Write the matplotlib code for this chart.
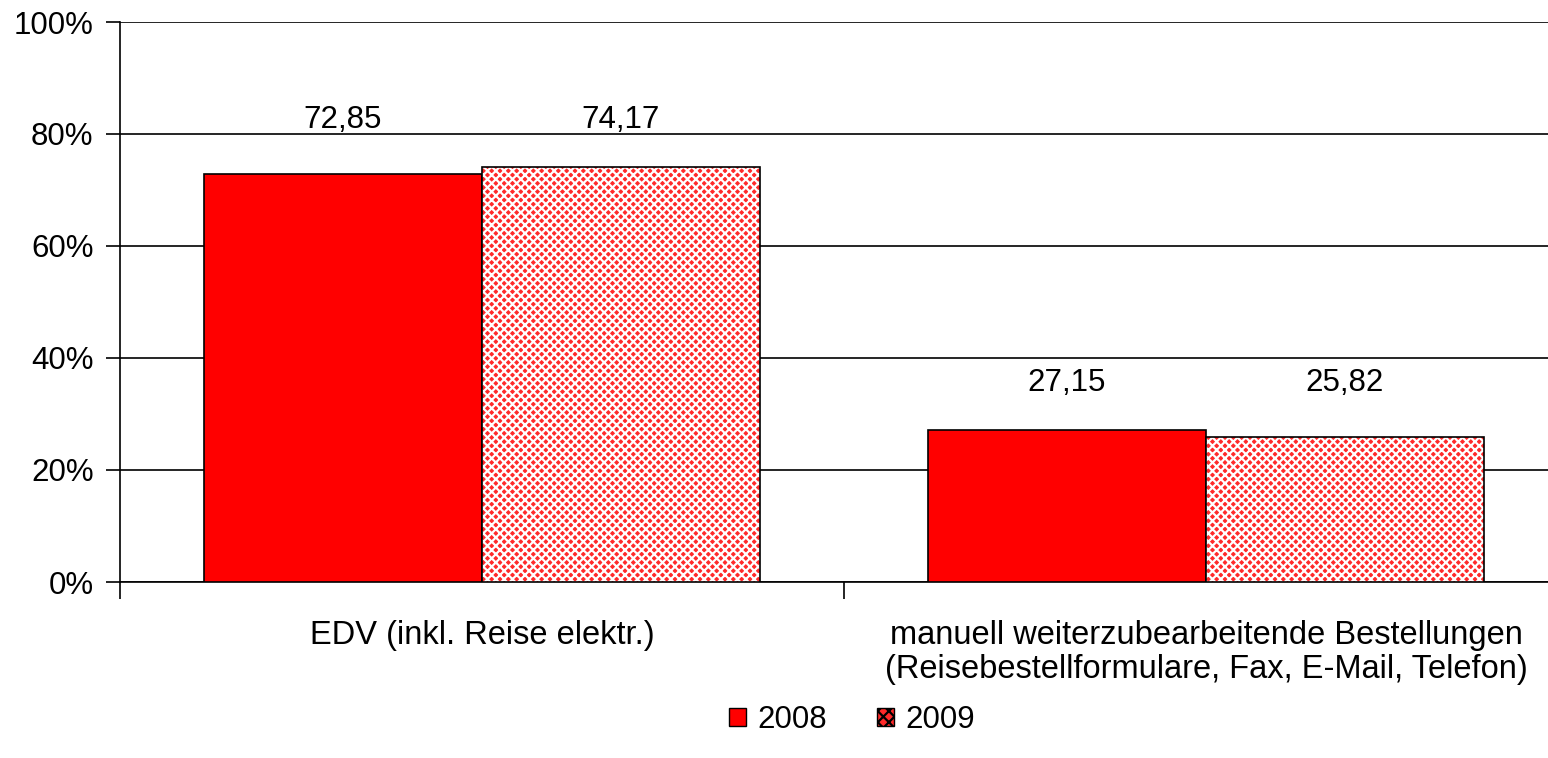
import matplotlib.pyplot as plt
import numpy as np

plt.rcParams['font.family'] = ['Liberation Sans', 'DejaVu Sans']
plt.rcParams['hatch.linewidth'] = 1.6

categories = ["EDV (inkl. Reise elektr.)",
              "manuell weiterzubearbeitende Bestellungen\n(Reisebestellformulare, Fax, E-Mail, Telefon)"]
v2008 = [72.85, 27.15]
v2009 = [74.17, 25.82]
labels2008 = ["72,85", "27,15"]
labels2009 = ["74,17", "25,82"]
yticks = [0, 20, 40, 60, 80, 100]

fig = plt.figure(figsize=(15.48, 7.58), dpi=100)
ax = fig.add_axes([120 / 1548, 1 - 582 / 758, 1448 / 1548, 560 / 758])

x = np.arange(len(categories))
w = 0.384
ax.bar(x - w / 2, v2008, w, color="#ff0000", edgecolor="black", linewidth=1.2, zorder=3, label="2008")
# hatched bars: red with white pattern, then black outline on top
ax.bar(x + w / 2, v2009, w, color="#ff2a2a", edgecolor="white", hatch="xxxx", linewidth=0, zorder=3)
ax.bar(x + w / 2, v2009, w, fill=False, edgecolor="black", linewidth=1.2, zorder=4)

for i in range(len(categories)):
    ytxt = max(v2008[i], v2009[i]) + 8.3
    ax.text(x[i] - w / 2, ytxt, labels2008[i], ha="center", va="center", fontsize=22.5)
    ax.text(x[i] + w / 2, ytxt, labels2009[i], ha="center", va="center", fontsize=22.5)

ax.set_xlim(-0.5, len(categories) - 0.5)
ax.set_ylim(0, 100)
ax.set_yticks(yticks)
ax.set_yticklabels([f"{t}%" for t in yticks], fontsize=22.5)
ax.yaxis.grid(True, color="black", linewidth=1.2, zorder=0)
ax.set_axisbelow(True)

ax.set_xticks([-0.5, 0.5, 1.5])
ax.set_xticklabels([])
ax.tick_params(axis="x", length=12, width=1.2, direction="out")
ax.tick_params(axis="y", length=10, width=1.2, direction="out", pad=9)
for i, c in enumerate(categories):
    ax.text(x[i], -6.7, c, ha="center", va="top", fontsize=23.5, linespacing=1.14)

for s in ["top", "right"]:
    ax.spines[s].set_visible(False)
ax.spines["left"].set_linewidth(1.2)
ax.spines["bottom"].set_linewidth(1.2)

# legend
h1 = plt.Rectangle((0, 0), 1, 1, facecolor="#ff0000", edgecolor="black", linewidth=1)
h2 = plt.Rectangle((0, 0), 1, 1, facecolor="#ff2a2a", edgecolor="black", hatch="xxx", linewidth=1)
fig.legend([h1, h2], ["2008", "2009"], loc="center", bbox_to_anchor=(852 / 1548, 1 - 720 / 758),
           ncol=2, frameon=False, fontsize=22.5, handlelength=0.55, handleheight=0.55,
           handletextpad=0.35, columnspacing=1.6)

fig.savefig("out.png", dpi=100)
